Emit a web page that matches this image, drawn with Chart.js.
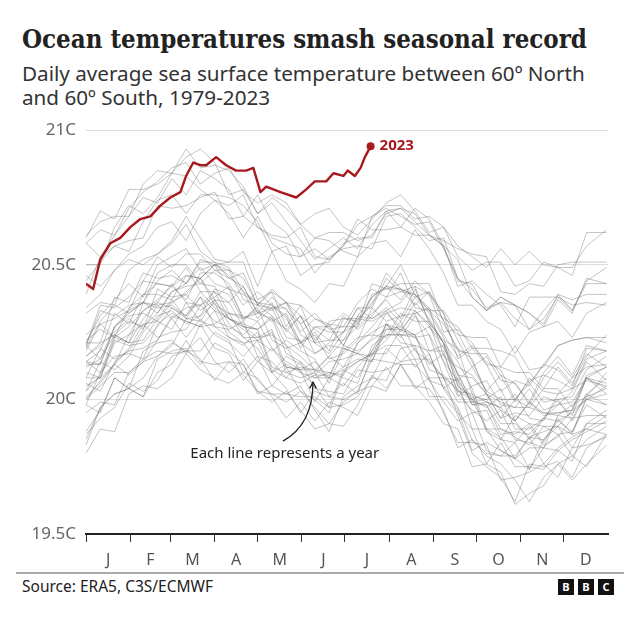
<!DOCTYPE html>
<html>
<head>
<meta charset="utf-8">
<script src="https://cdn.jsdelivr.net/npm/chart.js@4.4.1/dist/chart.umd.min.js"></script>
<style>
  html, body { margin: 0; padding: 0; background: #fff; }
  #page { position: relative; width: 640px; height: 636px; overflow: hidden; font-family: "Noto Sans", sans-serif; color: #222; }
  #title { position: absolute; left: 22px; top: 22px; font-family: "DejaVu Serif Condensed", "DejaVu Serif", serif; font-stretch: condensed; font-weight: bold; font-size: 24px; line-height: 34px; white-space: nowrap; color: #222; }
  #sub { position: absolute; left: 22px; top: 61px; font-size: 18px; line-height: 24px; color: #333; white-space: nowrap; }
  #sub span { display: inline-block; }
  #c { position: absolute; left: 0; top: 110px; }
  #rule { position: absolute; left: 16px; top: 572px; width: 608px; height: 2px; background: #aaa; }
  #source { position: absolute; left: 22px; top: 577px; font-size: 15.5px; line-height: 19px; color: #222; }
  .blk { position: absolute; top: 579px; width: 16px; height: 16px; background: #111; color: #fff; font: bold 11px/16px "Noto Sans", sans-serif; text-align: center; }
</style>
</head>
<body>
<div id="page">
  <div id="title">Ocean temperatures smash seasonal record</div>
  <div id="sub"><span id="sub1">Daily average sea surface temperature between 60º North</span><br><span>and 60º South, 1979-2023</span></div>
  <canvas id="c" width="640" height="460"></canvas>
  <div id="rule"></div>
  <div id="source">Source: ERA5, C3S/ECMWF</div>
  <div class="blk" style="left:558px">B</div>
  <div class="blk" style="left:578px">B</div>
  <div class="blk" style="left:598px">C</div>
</div>
<script>
// === axis labels ===
const monthStarts = [0, 31, 59, 90, 120, 151, 181, 212, 243, 273, 304, 334];
const monthMids = [15.5, 45, 74.5, 105, 135.5, 166, 196.5, 227.5, 258, 288.5, 319, 349.5];
const monthLabels = ['J', 'F', 'M', 'A', 'M', 'J', 'J', 'A', 'S', 'O', 'N', 'D'];
const yTicks = [19.5, 20, 20.5, 21];

// day of year for the grey lines (read every 10 days)
const days = [0,10,20,30,40,50,60,70,80,90,100,110,120,130,140,150,160,170,180,190,200,210,220,230,240,250,260,270,280,290,300,310,320,330,340,350,364];

// === 2023 ===
const redDays = [0,5,10,17,24,31,38,45,52,59,66,70,75,80,84,91,98,105,112,117,122,126,136,147,154,160,168,173,180,183,188,192,195,199];
const redVals = [20.43,20.41,20.52,20.58,20.60,20.64,20.67,20.68,20.72,20.75,20.77,20.83,20.88,20.87,20.87,20.90,20.87,20.85,20.85,20.86,20.77,20.79,20.77,20.75,20.78,20.81,20.81,20.84,20.83,20.85,20.83,20.86,20.90,20.94];

// === 1979-2022 ===
const y1979 = [19.87,19.93,19.97,20.06,20.03,20.07,20.16,20.18,20.15,20.07,20.14,20.09,20.03,19.99,20.03,19.96,19.89,19.91,19.99,20.03,20.05,20.03,20.13,20.04,20.08,19.95,19.84,19.84,19.83,19.70,19.71,19.73,19.76,19.71,19.82,19.83,19.86];
const y1980 = [19.98,19.95,20.08,20.04,20.18,20.21,20.22,20.17,20.28,20.19,20.17,20.07,20.14,20.10,20.04,19.95,20.03,20.01,20.00,20.03,20.15,20.14,20.13,20.13,20.07,20.05,19.97,19.85,19.80,19.79,19.84,19.74,19.82,19.87,19.79,19.85,19.90];
const y1981 = [19.85,19.97,20.02,20.04,20.01,20.15,20.18,20.19,20.13,20.21,20.18,20.13,20.02,20.05,20.02,20.05,19.96,19.88,20.01,20.05,20.08,20.07,20.19,20.20,20.07,19.99,19.92,19.95,19.81,19.79,19.79,19.86,19.76,19.82,19.86,19.89,19.87];
const y1982 = [20.00,20.05,20.10,20.10,20.14,20.16,20.20,20.30,20.29,20.27,20.23,20.20,20.25,20.11,20.08,20.06,20.09,20.09,20.19,20.17,20.16,20.28,20.23,20.31,20.24,20.14,20.01,20.05,20.07,19.98,19.97,19.97,20.04,20.04,19.97,20.09,20.12];
const y1983 = [20.13,20.13,20.27,20.32,20.36,20.35,20.36,20.39,20.45,20.37,20.36,20.27,20.23,20.24,20.20,20.10,20.08,20.10,20.08,20.06,20.20,20.24,20.24,20.15,20.15,20.08,20.07,19.89,19.76,19.84,19.75,19.75,19.74,19.81,19.85,19.88,19.92];
const y1984 = [19.95,19.99,19.98,20.10,20.15,20.18,20.17,20.18,20.23,20.14,20.10,20.15,20.07,20.02,19.99,20.03,19.97,19.91,19.90,19.98,20.09,20.04,20.13,20.05,19.99,19.91,19.89,19.75,19.76,19.73,19.61,19.65,19.68,19.76,19.70,19.76,19.83];
const y1985 = [19.80,19.89,19.88,20.02,20.05,20.04,20.08,20.17,20.11,20.08,20.06,20.10,20.08,20.01,19.93,19.99,19.92,19.99,19.97,19.94,20.05,20.12,20.05,20.05,20.04,19.96,19.82,19.85,19.79,19.76,19.70,19.62,19.71,19.76,19.79,19.75,19.87];
const y1986 = [19.88,19.96,20.08,20.04,20.08,20.16,20.21,20.18,20.18,20.25,20.22,20.10,20.16,20.05,20.12,20.03,20.00,19.95,20.10,20.14,20.17,20.22,20.29,20.18,20.14,20.08,20.04,19.95,19.96,19.85,19.94,19.91,19.90,19.90,19.96,20.00,19.98];
const y1987 = [20.16,20.21,20.24,20.21,20.30,20.36,20.43,20.36,20.35,20.38,20.42,20.30,20.32,20.34,20.34,20.24,20.21,20.22,20.31,20.26,20.31,20.38,20.47,20.34,20.33,20.28,20.19,20.02,19.99,19.97,20.02,19.93,19.92,20.02,20.04,20.07,20.05];
const y1988 = [20.08,20.08,20.21,20.24,20.33,20.36,20.34,20.30,20.38,20.27,20.26,20.29,20.16,20.14,20.08,20.14,20.04,20.03,20.02,20.11,20.10,20.11,20.14,20.19,20.08,20.08,19.94,19.80,19.75,19.71,19.62,19.76,19.75,19.77,19.71,19.82,19.87];
const y1989 = [19.83,19.97,20.02,20.04,20.01,20.10,20.13,20.22,20.14,20.13,20.14,20.13,20.03,20.02,20.02,20.01,20.01,19.97,19.98,20.01,20.08,20.19,20.14,20.15,20.01,20.01,19.95,19.89,19.89,19.81,19.78,19.82,19.82,19.81,19.77,19.91,19.91];
const y1990 = [20.06,20.03,20.14,20.18,20.19,20.22,20.31,20.29,20.27,20.28,20.32,20.23,20.19,20.10,20.16,20.13,20.08,20.08,20.11,20.08,20.18,20.24,20.24,20.23,20.24,20.08,19.99,19.99,19.98,19.87,19.88,19.87,19.93,19.92,19.88,20.00,20.05];
const y1991 = [20.05,20.08,20.13,20.24,20.28,20.29,20.26,20.36,20.29,20.37,20.28,20.23,20.23,20.26,20.12,20.11,20.11,20.10,20.09,20.21,20.25,20.28,20.26,20.32,20.18,20.20,20.05,20.00,19.97,20.01,19.89,19.89,19.93,20.00,19.92,20.02,20.08];
const y1992 = [20.14,20.10,20.24,20.21,20.36,20.34,20.35,20.31,20.40,20.34,20.30,20.27,20.26,20.12,20.10,20.08,20.10,20.01,20.06,20.02,20.17,20.20,20.20,20.12,20.17,20.04,19.96,19.81,19.84,19.81,19.78,19.74,19.85,19.90,19.82,19.91,19.96];
const y1993 = [19.98,20.10,20.16,20.17,20.15,20.28,20.32,20.29,20.27,20.33,20.23,20.21,20.14,20.19,20.14,20.11,19.99,20.08,20.12,20.15,20.14,20.26,20.27,20.24,20.11,20.09,20.03,20.02,19.88,19.85,19.84,19.90,19.83,19.86,19.93,20.02,19.98];
const y1994 = [20.03,20.09,20.22,20.20,20.21,20.27,20.34,20.31,20.38,20.33,20.30,20.26,20.22,20.18,20.22,20.18,20.15,20.06,20.18,20.23,20.24,20.23,20.32,20.29,20.29,20.21,20.09,20.00,20.02,19.93,20.00,19.97,19.95,19.95,19.96,20.08,20.06];
const y1995 = [20.16,20.20,20.25,20.30,20.26,20.41,20.38,20.39,20.33,20.37,20.30,20.27,20.26,20.30,20.17,20.14,20.09,20.14,20.15,20.17,20.14,20.28,20.24,20.24,20.13,20.17,20.03,20.00,19.89,19.86,19.78,19.86,19.88,19.90,19.87,19.89,19.94];
const y1996 = [20.01,20.06,20.13,20.09,20.14,20.22,20.30,20.23,20.30,20.24,20.21,20.16,20.22,20.10,20.13,20.10,20.05,19.97,20.11,20.14,20.17,20.17,20.26,20.23,20.17,20.04,20.08,19.98,19.98,19.89,19.86,19.83,19.90,19.87,19.88,19.98,19.93];
const y1997 = [20.10,20.08,20.23,20.21,20.22,20.30,20.37,20.30,20.31,20.41,20.39,20.29,20.35,20.31,20.26,20.21,20.25,20.18,20.30,20.29,20.36,20.42,20.50,20.39,20.34,20.30,20.27,20.19,20.19,20.18,20.16,20.06,20.13,20.20,20.22,20.23,20.23];
const y1998 = [20.34,20.39,20.48,20.52,20.50,20.54,20.59,20.68,20.60,20.52,20.51,20.51,20.37,20.40,20.36,20.35,20.22,20.28,20.20,20.30,20.29,20.32,20.27,20.36,20.30,20.21,20.14,20.04,19.89,19.89,19.87,19.91,19.84,19.93,19.87,20.01,20.04];
const y1999 = [20.03,20.14,20.11,20.16,20.25,20.31,20.33,20.28,20.31,20.36,20.25,20.21,20.22,20.25,20.10,20.12,20.11,20.08,20.05,20.12,20.18,20.28,20.21,20.20,20.18,20.18,20.02,19.96,19.92,19.96,19.85,19.84,19.82,19.94,19.93,19.94,19.94];
const y2000 = [20.00,20.07,20.13,20.19,20.28,20.23,20.25,20.26,20.35,20.29,20.27,20.24,20.29,20.19,20.12,20.11,20.14,20.08,20.20,20.18,20.22,20.26,20.26,20.24,20.27,20.19,20.10,19.98,19.99,19.97,19.92,19.85,19.93,19.98,19.99,20.08,20.02];
const y2001 = [20.12,20.15,20.24,20.29,20.27,20.32,20.40,20.42,20.43,20.42,20.32,20.31,20.29,20.34,20.23,20.22,20.10,20.16,20.22,20.27,20.32,20.37,20.30,20.41,20.29,20.21,20.07,20.12,20.03,20.00,20.00,20.06,19.99,20.00,20.01,20.11,20.16];
const y2002 = [20.14,20.18,20.32,20.28,20.39,20.43,20.42,20.37,20.47,20.47,20.43,20.35,20.40,20.35,20.30,20.21,20.27,20.27,20.32,20.28,20.38,20.42,20.41,20.38,20.40,20.29,20.18,20.17,20.17,20.09,20.06,19.99,20.10,20.16,20.09,20.20,20.18];
const y2003 = [20.20,20.35,20.34,20.38,20.44,20.53,20.49,20.54,20.54,20.48,20.48,20.45,20.35,20.41,20.36,20.31,20.21,20.29,20.30,20.30,20.35,20.47,20.41,20.39,20.33,20.33,20.25,20.14,20.03,20.09,19.99,20.08,20.03,20.02,20.08,20.17,20.12];
const y2004 = [20.24,20.28,20.30,20.33,20.44,20.43,20.42,20.46,20.45,20.50,20.48,20.37,20.35,20.34,20.36,20.25,20.30,20.28,20.27,20.27,20.39,20.41,20.41,20.35,20.40,20.32,20.22,20.12,20.16,20.07,20.06,19.98,20.08,20.14,20.08,20.12,20.13];
const y2005 = [20.20,20.33,20.31,20.35,20.36,20.47,20.50,20.50,20.43,20.48,20.45,20.42,20.32,20.38,20.33,20.28,20.17,20.21,20.25,20.34,20.30,20.33,20.36,20.42,20.28,20.22,20.19,20.15,20.02,19.99,19.97,20.04,19.96,19.98,20.03,20.14,20.07];
const y2006 = [20.22,20.26,20.23,20.34,20.39,20.39,20.37,20.46,20.45,20.50,20.46,20.40,20.30,20.36,20.25,20.31,20.26,20.22,20.22,20.31,20.38,20.42,20.37,20.44,20.39,20.32,20.15,20.19,20.13,20.12,20.10,20.10,20.04,20.12,20.06,20.16,20.24];
const y2007 = [20.19,20.29,20.35,20.32,20.36,20.44,20.48,20.43,20.52,20.50,20.41,20.30,20.33,20.29,20.32,20.21,20.17,20.20,20.19,20.17,20.23,20.32,20.34,20.33,20.28,20.14,20.07,19.99,20.00,19.91,19.91,19.86,19.85,19.92,19.95,20.00,20.02];
const y2008 = [20.08,20.19,20.15,20.18,20.26,20.35,20.30,20.34,20.35,20.40,20.30,20.28,20.26,20.31,20.20,20.16,20.11,20.16,20.12,20.21,20.27,20.33,20.25,20.33,20.27,20.21,20.05,20.01,20.00,20.04,19.92,19.99,19.94,19.95,19.96,20.08,20.04];
const y2009 = [20.20,20.15,20.27,20.33,20.36,20.32,20.40,20.43,20.49,20.43,20.41,20.39,20.36,20.35,20.31,20.19,20.27,20.25,20.25,20.28,20.43,20.41,20.43,20.43,20.43,20.29,20.24,20.23,20.23,20.12,20.20,20.11,20.12,20.20,20.22,20.23,20.21];
const y2010 = [20.32,20.36,20.35,20.48,20.52,20.54,20.58,20.65,20.55,20.51,20.45,20.47,20.35,20.40,20.27,20.35,20.30,20.27,20.20,20.31,20.30,20.34,20.29,20.38,20.32,20.23,20.09,20.08,20.02,19.96,19.92,19.99,19.95,19.94,19.98,20.01,20.10];
const y2011 = [20.14,20.13,20.27,20.31,20.32,20.29,20.36,20.40,20.45,20.35,20.32,20.30,20.34,20.22,20.19,20.21,20.24,20.15,20.17,20.22,20.34,20.29,20.31,20.32,20.34,20.16,20.12,20.09,20.02,19.93,19.95,19.94,20.01,19.99,19.94,20.08,20.12];
const y2012 = [20.18,20.28,20.23,20.27,20.33,20.37,20.42,20.49,20.40,20.40,20.36,20.42,20.32,20.30,20.26,20.31,20.21,20.17,20.25,20.34,20.34,20.45,20.40,20.39,20.33,20.24,20.16,20.20,20.14,20.11,20.00,20.07,20.09,20.07,20.04,20.15,20.18];
const y2013 = [20.21,20.21,20.38,20.36,20.47,20.45,20.46,20.43,20.51,20.51,20.49,20.40,20.36,20.33,20.36,20.28,20.32,20.26,20.27,20.36,20.41,20.38,20.40,20.42,20.39,20.25,20.26,20.21,20.13,20.03,20.07,20.05,20.13,20.11,20.05,20.19,20.18];
const y2014 = [20.21,20.31,20.37,20.43,20.38,20.50,20.53,20.56,20.48,20.50,20.51,20.55,20.42,20.55,20.44,20.41,20.36,20.43,20.42,20.53,20.58,20.59,20.53,20.63,20.56,20.47,20.35,20.35,20.29,20.26,20.17,20.25,20.27,20.29,20.23,20.32,20.36];
const y2015 = [20.46,20.42,20.48,20.54,20.57,20.64,20.66,20.59,20.69,20.74,20.69,20.60,20.68,20.58,20.54,20.53,20.56,20.52,20.57,20.65,20.68,20.72,20.72,20.67,20.68,20.64,20.53,20.48,20.51,20.51,20.42,20.44,20.51,20.49,20.46,20.62,20.62];
const y2016 = [20.61,20.66,20.68,20.68,20.80,20.85,20.84,20.90,20.93,20.88,20.76,20.78,20.69,20.73,20.66,20.59,20.52,20.56,20.60,20.56,20.65,20.70,20.64,20.61,20.61,20.57,20.44,20.43,20.33,20.38,20.35,20.32,20.28,20.39,20.37,20.39,20.39];
const y2017 = [20.50,20.50,20.64,20.72,20.69,20.75,20.84,20.83,20.78,20.74,20.72,20.76,20.64,20.61,20.60,20.64,20.53,20.52,20.57,20.67,20.63,20.63,20.64,20.71,20.67,20.57,20.42,20.44,20.39,20.35,20.27,20.38,20.38,20.38,20.33,20.44,20.49];
const y2018 = [20.44,20.51,20.57,20.55,20.66,20.74,20.76,20.69,20.76,20.76,20.75,20.72,20.66,20.55,20.57,20.46,20.50,20.51,20.58,20.60,20.60,20.70,20.71,20.66,20.61,20.59,20.56,20.54,20.53,20.40,20.39,20.43,20.42,20.50,20.51,20.51,20.51];
const y2019 = [20.58,20.63,20.61,20.71,20.77,20.81,20.86,20.88,20.80,20.84,20.86,20.77,20.73,20.76,20.73,20.65,20.69,20.71,20.64,20.61,20.67,20.73,20.76,20.70,20.62,20.64,20.57,20.53,20.49,20.56,20.50,20.55,20.50,20.49,20.49,20.57,20.63];
const y2020 = [20.60,20.70,20.67,20.78,20.78,20.80,20.84,20.93,20.86,20.87,20.85,20.79,20.69,20.75,20.71,20.65,20.60,20.62,20.62,20.59,20.61,20.69,20.71,20.69,20.61,20.57,20.52,20.38,20.33,20.36,20.30,20.26,20.30,20.38,20.35,20.36,20.35];
const y2021 = [20.39,20.53,20.57,20.59,20.60,20.72,20.71,20.72,20.75,20.77,20.67,20.68,20.64,20.60,20.58,20.56,20.47,20.53,20.56,20.57,20.56,20.68,20.69,20.64,20.59,20.60,20.45,20.38,20.33,20.38,20.35,20.32,20.27,20.37,20.32,20.45,20.43];
const y2022 = [20.58,20.53,20.61,20.68,20.75,20.73,20.82,20.76,20.85,20.82,20.78,20.68,20.76,20.66,20.62,20.53,20.60,20.59,20.55,20.53,20.68,20.71,20.68,20.65,20.66,20.56,20.45,20.41,20.34,20.36,20.35,20.26,20.33,20.39,20.33,20.43,20.43];

const greyYears = [y1979, y1980, y1981, y1982, y1983, y1984, y1985, y1986, y1987, y1988,
  y1989, y1990, y1991, y1992, y1993, y1994, y1995, y1996, y1997, y1998,
  y1999, y2000, y2001, y2002, y2003, y2004, y2005, y2006, y2007, y2008,
  y2009, y2010, y2011, y2012, y2013, y2014, y2015, y2016, y2017, y2018,
  y2019, y2020, y2021, y2022];

const RED = '#a8191e';
const GREY = 'rgba(100,100,100,0.45)';
const SANS = '"Noto Sans", sans-serif';

// title and first subtitle line fill the same width as the original
function fitWidth(el, target) {
  const size = parseFloat(getComputedStyle(el).fontSize);
  const w = el.getBoundingClientRect().width;
  el.style.fontSize = (size * target / w).toFixed(2) + 'px';
}
fitWidth(document.getElementById('title'), 565);
const sub1 = document.getElementById('sub1');
const subSize = parseFloat(getComputedStyle(sub1).fontSize) * 563 / sub1.getBoundingClientRect().width;
document.getElementById('sub').style.fontSize = subSize.toFixed(2) + 'px';

// === 2023 label, annotation and arrow ===
const notes = {
  id: 'notes',
  afterDatasetsDraw(chart) {
    const { ctx, scales: { x, y } } = chart;
    const pts = chart.getDatasetMeta(0).data;
    const last = pts[pts.length - 1];
    ctx.save();
    ctx.fillStyle = RED;
    ctx.font = 'bold 15px ' + SANS;
    ctx.textAlign = 'left';
    ctx.textBaseline = 'middle';
    ctx.fillText('2023', last.x + 9, last.y - 1);

    ctx.fillStyle = '#222';
    ctx.font = '15px ' + SANS;
    ctx.textAlign = 'center';
    ctx.fillText('Each line represents a year', x.getPixelForValue(139), y.getPixelForValue(19.80));

    const x0 = x.getPixelForValue(137.7), y0 = y.getPixelForValue(19.845);
    const cx = x.getPixelForValue(158.7), cy = y.getPixelForValue(19.908);
    const x1 = x.getPixelForValue(158.7), y1 = y.getPixelForValue(20.064);
    ctx.strokeStyle = '#222';
    ctx.lineWidth = 1.3;
    ctx.beginPath();
    ctx.moveTo(x0, y0);
    ctx.quadraticCurveTo(cx, cy, x1, y1);
    ctx.stroke();
    const ang = Math.atan2(y1 - cy, x1 - cx);
    ctx.beginPath();
    ctx.moveTo(x1 - 7 * Math.cos(ang - 0.5), y1 - 7 * Math.sin(ang - 0.5));
    ctx.lineTo(x1, y1);
    ctx.lineTo(x1 - 7 * Math.cos(ang + 0.5), y1 - 7 * Math.sin(ang + 0.5));
    ctx.stroke();
    ctx.restore();
  }
};

const datasets = [{
  data: redVals.map((v, i) => ({ x: redDays[i], y: v })),
  borderColor: RED,
  borderWidth: 2.4,
  pointRadius: c => c.dataIndex === redVals.length - 1 ? 4 : 0,
  pointBackgroundColor: RED,
  pointBorderWidth: 0
}].concat(greyYears.map(vals => ({
  data: vals.map((v, i) => ({ x: days[i], y: v })),
  borderColor: GREY,
  borderWidth: 0.85,
  pointRadius: 0
})));

new Chart(document.getElementById('c'), {
  type: 'line',
  data: { datasets },
  options: {
    responsive: false,
    animation: false,
    layout: { padding: { left: 0, right: 32, top: 20, bottom: 0 } },
    plugins: { legend: { display: false }, tooltip: { enabled: false } },
    elements: { line: { tension: 0, borderJoinStyle: 'round' } },
    scales: {
      x: {
        type: 'linear', min: 0, max: 365,
        afterBuildTicks: s => { s.ticks = monthStarts.map(v => ({ value: v })); },
        grid: { drawOnChartArea: false, drawTicks: true, tickLength: 8, color: '#333', lineWidth: 1 },
        border: { display: true, color: '#222', width: 2 },
        ticks: { display: false },
        afterFit: s => { s.height = 8; }
      },
      x2: {
        type: 'linear', position: 'bottom', min: 0, max: 365,
        afterBuildTicks: s => { s.ticks = monthMids.map(v => ({ value: v })); },
        grid: { display: false, drawTicks: false },
        border: { display: false },
        ticks: {
          callback: (v, i) => monthLabels[i],
          autoSkip: false, maxRotation: 0, padding: 9,
          color: '#555', font: { family: SANS, size: 16 }
        },
        afterFit: s => { s.height = 28; }
      },
      y: {
        min: 19.5, max: 21,
        afterBuildTicks: s => { s.ticks = yTicks.map(v => ({ value: v })); },
        ticks: { callback: v => v + 'C', padding: 10, color: '#666', font: { family: SANS, size: 17 } },
        grid: { color: '#dddddd', drawTicks: false },
        border: { display: false },
        afterFit: s => { s.width = 86; }
      }
    }
  },
  plugins: [notes]
});
</script>
</body>
</html>
